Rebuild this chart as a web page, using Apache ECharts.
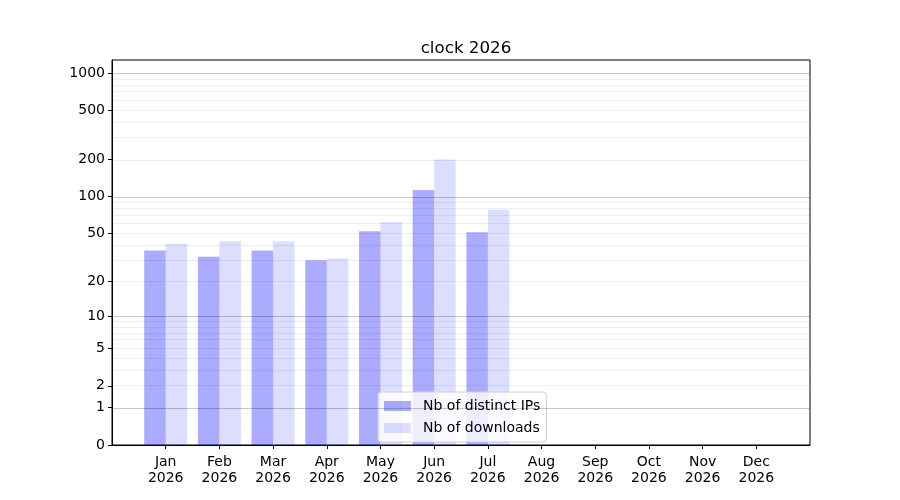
<!DOCTYPE html>
<html>
<head>
<meta charset="utf-8">
<script src="https://cdn.jsdelivr.net/npm/echarts@6/dist/echarts.min.js"></script>
<style>
    html, body {margin: 0; padding: 0; background: #fff;}
    #chart {width: 900px; height: 500px;}
</style>
</head>
<body>
<div id="chart"></div>
<script>
    // 月份与数据
    var months = ['Jan', 'Feb', 'Mar', 'Apr', 'May', 'Jun', 'Jul', 'Aug', 'Sep', 'Oct', 'Nov', 'Dec'];
    var year = '2026';
    var distinctIps = [36, 32, 36, 30, 52, 113, 51, 0, 0, 0, 0, 0];
    var downloads = [41, 43, 43, 31, 62, 200, 78, 0, 0, 0, 0, 0];
    var yTicks = [0, 1, 2, 5, 10, 20, 50, 100, 200, 500, 1000];
    var majorLines = [1, 10, 100, 1000];
    var minorLines = [2, 3, 4, 5, 6, 7, 8, 9, 20, 30, 40, 50, 60, 70, 80, 90, 200, 300, 400, 500, 600, 700, 800, 900];
    var yTop = 1275;

    // log10(1 + x) 变换
    function tr(v) {
        return Math.log10(1 + v);
    }

    // 两端各留一个空类目
    var cats = [''].concat(months.map(function (m) { return m + '\n' + year; })).concat(['']);
    function pad(arr) {
        return [null].concat(arr.map(tr)).concat([null]);
    }

    var lineData = [];
    majorLines.forEach(function (v) {
        lineData.push({yAxis: tr(v), lineStyle: {color: 'rgba(0,0,0,0.22)', width: 1, type: 'solid'}});
    });
    minorLines.forEach(function (v) {
        lineData.push({yAxis: tr(v), lineStyle: {color: 'rgba(0,0,0,0.07)', width: 1, type: 'solid'}});
    });

    var chart = echarts.init(document.getElementById('chart'));
    chart.setOption({
        animation: false,
        textStyle: {fontFamily: 'DejaVu Sans'},
        title: {
            text: 'clock 2026',
            left: 461,
            textAlign: 'center',
            top: 35,
            textStyle: {fontSize: 16.7, fontWeight: 'normal', color: '#000', fontFamily: 'DejaVu Sans'}
        },
        grid: {
            left: 112, right: 90, top: 60, bottom: 55,
            show: true, borderColor: '#000', borderWidth: 1, backgroundColor: 'transparent'
        },
        legend: {
            orient: 'vertical',
            left: 378,
            top: 392,
            itemWidth: 27,
            itemHeight: 10,
            itemGap: 6,
            padding: [6, 6, 6, 6],
            backgroundColor: 'rgba(255,255,255,0.8)',
            borderColor: '#d0d0d0',
            borderWidth: 1,
            borderRadius: 3,
            textStyle: {fontSize: 14, color: '#000', fontFamily: 'DejaVu Sans', lineHeight: 16, padding: [0, 0, 0, 7]},
            data: [
                {name: 'Nb of distinct IPs', icon: 'rect'},
                {name: 'Nb of downloads', icon: 'rect'}
            ]
        },
        xAxis: {
            type: 'category',
            data: cats,
            boundaryGap: false,
            axisLine: {lineStyle: {color: '#000', width: 1}},
            axisTick: {
                length: 4,
                lineStyle: {color: '#000'},
                interval: function (i) { return i > 0 && i < cats.length - 1; }
            },
            axisLabel: {
                interval: 0,
                color: '#000',
                fontSize: 14,
                lineHeight: 16,
                margin: 9,
                fontFamily: 'DejaVu Sans'
            },
            splitLine: {show: false}
        },
        yAxis: {
            type: 'value',
            min: 0,
            max: tr(yTop),
            axisLine: {show: true, lineStyle: {color: '#000', width: 1}},
            axisTick: {
                show: true,
                length: 4,
                lineStyle: {color: '#000'},
                customValues: yTicks.map(tr)
            },
            axisLabel: {
                color: '#000',
                fontSize: 14,
                margin: 7,
                fontFamily: 'DejaVu Sans',
                customValues: yTicks.map(tr),
                formatter: function (v) {
                    return String(Math.round(Math.pow(10, v) - 1));
                }
            },
            splitLine: {show: false}
        },
        series: [
            {
                name: 'Nb of distinct IPs',
                type: 'bar',
                barWidth: 21.5,
                barGap: '0%',
                data: pad(distinctIps),
                itemStyle: {color: 'rgba(0,0,255,0.33)'},
                markLine: {
                    silent: true,
                    symbol: 'none',
                    label: {show: false},
                    animation: false,
                    data: lineData
                }
            },
            {
                name: 'Nb of downloads',
                type: 'bar',
                barWidth: 21.5,
                barGap: '0%',
                data: pad(downloads),
                itemStyle: {color: 'rgba(0,0,255,0.135)'}
            }
        ]
    });
</script>
</body>
</html>
